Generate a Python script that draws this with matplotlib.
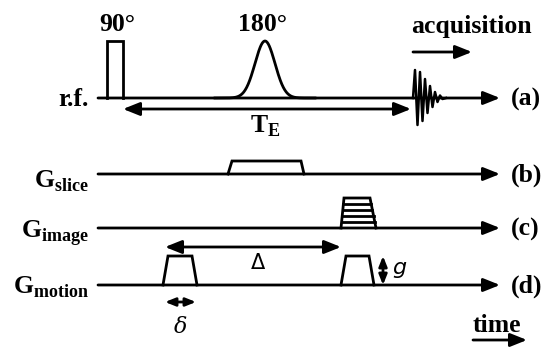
import numpy as np
import matplotlib
matplotlib.use("Agg")
import matplotlib.pyplot as plt

plt.rcParams["font.family"] = ["Liberation Serif", "DejaVu Sans"]
plt.rcParams["mathtext.fontset"] = "custom"
plt.rcParams["mathtext.bf"] = "Liberation Serif:bold"
plt.rcParams["mathtext.rm"] = "Liberation Serif:bold"

# rows of the sequence (channel label, tag)
rows = [r"r.f.", r"$\mathbf{G}_{\mathbf{slice}}$", r"$\mathbf{G}_{\mathbf{image}}$", r"$\mathbf{G}_{\mathbf{motion}}$"]
tags = ["(a)", "(b)", "(c)", "(d)"]
row_y = [98, 174, 228, 285]
label_base = [106, 187, 237, 293]

# time axis (pixel-like units)
t_start, t_end = 98, 500

# 90 deg hard pulse and 180 deg shaped pulse
p90 = [107, 123]          # start, end
p90_height = 57
p180 = [265, 10, 57]      # centre, sigma, height

# echo (FID-like) extrema
echo_t = [413, 415, 417.5, 420, 422.5, 425, 427.5, 430, 432.5, 435, 437.5, 440, 442.5, 446]
echo_a = [0, 28, -27, 26, -23, 19, -15, 12, -9, 6, -4, 2.5, -1, 0]

# gradient trapezoids: (bottom-left, top-left, top-right, bottom-right, height)
slice_trap = [228, 232, 301, 304, 13]
image_trap = [341, 344, 370, 376, 30]
image_steps = 4
motion_traps = [[163, 168, 192, 197, 29], [341, 346, 369, 374, 29]]

LW = 2.0
FS = 18.5
fig = plt.figure(figsize=(5.51, 3.47), dpi=100)
ax = fig.add_axes([0, 0, 1, 1])
ax.set_xlim(0, 551)
ax.set_ylim(347, 0)
ax.axis("off")


def arrow(x0, y0, x1, y1, both=False, ms=20, hl=0.5, hw=0.2):
    style = ("<|-|>" if both else "-|>") + ",head_length=%g,head_width=%g" % (hl, hw)
    ax.annotate("", xy=(x1, y1), xytext=(x0, y0),
                arrowprops=dict(arrowstyle=style, lw=LW, color="k",
                                mutation_scale=ms, shrinkA=0, shrinkB=0))


def trap(tr, base, steps=0):
    bl, tl, tr_, br, h = tr
    ax.plot([bl, tl, tr_, br], [base, base - h, base - h, base], color="k", lw=LW,
            solid_joinstyle="miter")
    for k in range(1, steps + 1):
        yy = base - h * k / (steps + 1)
        f = k / (steps + 1)
        ax.plot([bl + (tl - bl) * f, br + (tr_ - br) * f], [yy, yy], color="k", lw=LW)


# baselines, labels and tags
for name, tag, y, yb in zip(rows, tags, row_y, label_base):
    arrow(t_start, y, t_end, y)
    ax.text(89, yb, name, ha="right", va="baseline", fontsize=FS, fontweight="bold")
    ax.text(511, y + 1, tag, ha="left", va="center", fontsize=FS, fontweight="bold")

# r.f. channel
y = row_y[0]
ax.plot([p90[0], p90[0], p90[1], p90[1]], [y, y - p90_height, y - p90_height, y],
        color="k", lw=LW, solid_joinstyle="miter")
tt = np.linspace(p180[0] - 5 * p180[1], p180[0] + 5 * p180[1], 200)
ax.plot(tt, y - p180[2] * np.exp(-0.5 * ((tt - p180[0]) / p180[1]) ** 2), color="k", lw=LW)
ax.plot(echo_t, [y - a for a in echo_a], color="k", lw=1.8)
ax.text(np.mean(p90) + 2, 31, "90°", ha="center", va="baseline", fontsize=FS, fontweight="bold")
ax.text(p180[0] - 3, 31, "180°", ha="center", va="baseline", fontsize=FS, fontweight="bold")
ax.text(471, 33, "acquisition", ha="center", va="baseline", fontsize=FS, fontweight="bold")
arrow(413, 52, 472, 52)
arrow(123, 109, 411, 109, both=True)
ax.text(265, 132, r"$\mathbf{T}_{\mathbf{E}}$", ha="center", va="baseline", fontsize=FS)

# gradients
trap(slice_trap, row_y[1])
trap(image_trap, row_y[2], steps=image_steps)
for tr in motion_traps:
    trap(tr, row_y[3])

# Delta, delta, g
arrow(165, 247, 341, 247, both=True)
ax.text(258, 263, "Δ", ha="center", va="center", fontsize=15, family="DejaVu Sans")
arrow(165, 302, 196, 302, both=True, ms=12)
ax.text(181, 327, "δ", ha="center", va="center", fontsize=16, family="DejaVu Serif",
        style="italic")
arrow(383, 256, 383, 285, both=True, ms=12)
ax.text(392, 268, "g", ha="left", va="center", fontsize=16, family="DejaVu Sans",
        style="italic")

# time arrow
ax.text(497, 332, "time", ha="center", va="baseline", fontsize=FS, fontweight="bold")
arrow(473, 340, 527, 340)

fig.savefig("out.png", dpi=100)
